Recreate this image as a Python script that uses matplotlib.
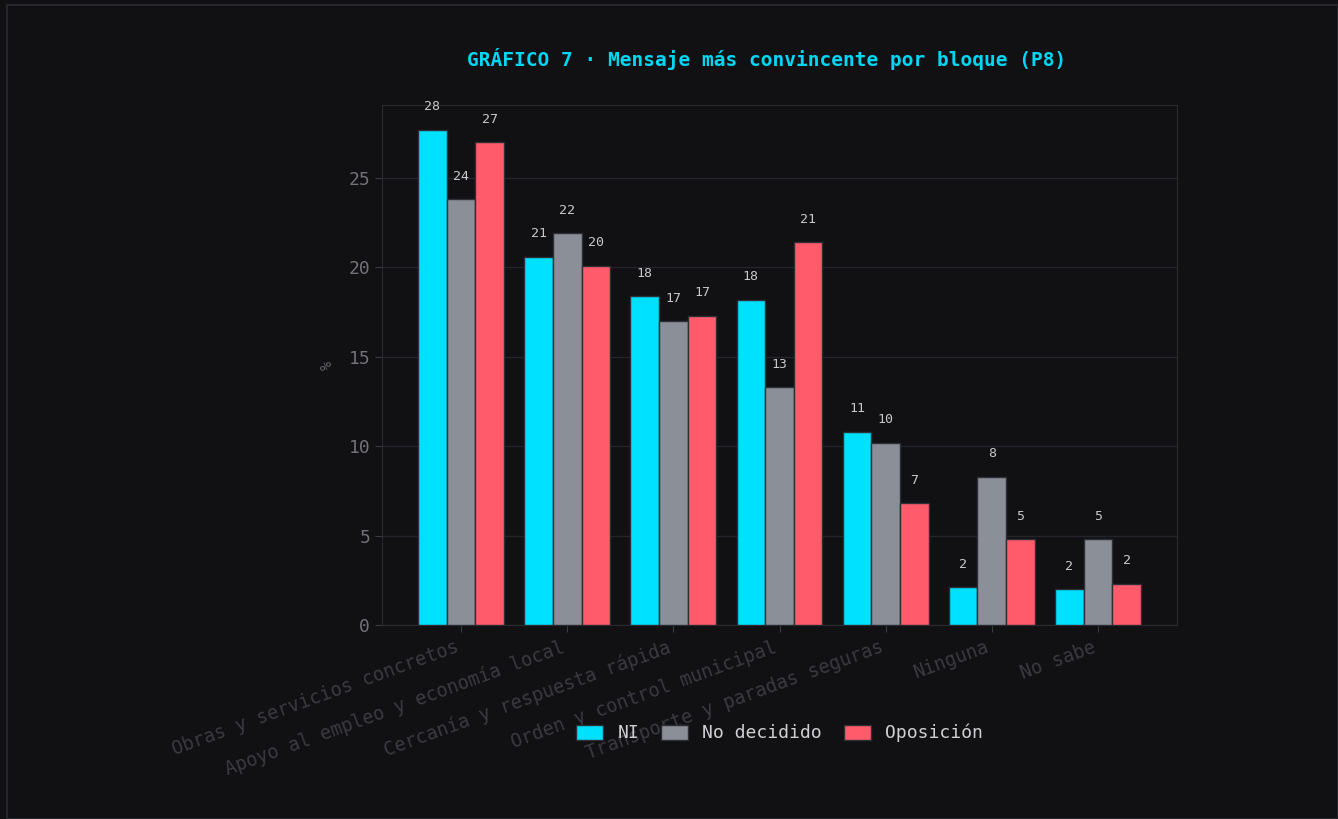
import matplotlib
matplotlib.use("Agg")
import matplotlib.pyplot as plt
import numpy as np
from matplotlib.patches import Rectangle

categories = ["Obras y servicios concretos", "Apoyo al empleo y economía local",
              "Cercanía y respuesta rápida", "Orden y control municipal",
              "Transporte y paradas seguras", "Ninguna", "No sabe"]
series_names = ["NI", "No decidido", "Oposición"]
ni = [27.7, 20.6, 18.4, 18.2, 10.8, 2.1, 2.0]
no_decidido = [23.8, 21.9, 17.0, 13.3, 10.2, 8.3, 4.8]
oposicion = [27.0, 20.1, 17.3, 21.4, 6.8, 4.8, 2.3]
colors = ["#00e1ff", "#8a8f98", "#ff5b6b"]
title = "GRÁFICO 7 · Mensaje más convincente por bloque (P8)"

BG = "#111114"
MONO = ["DejaVu Sans Mono"]

fig = plt.figure(figsize=(13.38, 8.19), dpi=100, facecolor=BG)
fig.patches.append(Rectangle((7 / 1338, 0), 1 - 7 / 1338, 1 - 5 / 819,
                             transform=fig.transFigure, fill=False,
                             edgecolor="#26262d", linewidth=1.5, zorder=0))
ax = fig.add_axes([382 / 1338, 1 - 625 / 819, (1177 - 382) / 1338, (625 - 105) / 819])
ax.set_facecolor(BG)

x = np.arange(len(categories))
w = 0.27
for i, (vals, name, c) in enumerate(zip([ni, no_decidido, oposicion], series_names, colors)):
    bars = ax.bar(x + (i - 1) * w, vals, w, color=c, edgecolor="#2e2e36",
                  linewidth=1, label=name, zorder=3)
    for b, v in zip(bars, vals):
        ax.annotate(f"{v:.0f}", (b.get_x() + b.get_width() / 2, v),
                    xytext=(0, 23), textcoords="offset pixels", ha="center",
                    va="center", fontsize=9.5, color="#c8c8cc", family=MONO)

ax.set_xticks(x)
ax.set_xticklabels(categories, rotation=20, ha="right",
                   fontsize=13.4, color="#717179", family=MONO)
ax.tick_params(axis="x", colors="#3a3a42", length=5, pad=4)
ax.tick_params(axis="y", colors="#3a3a42", length=5, labelsize=13, labelcolor="#717179")
for lab in ax.get_yticklabels():
    lab.set_family(MONO)
ax.set_yticks([0, 5, 10, 15, 20, 25])
ax.grid(axis="y", color="#24242a", linewidth=1, zorder=0)
ax.set_axisbelow(True)
for s in ax.spines.values():
    s.set_color("#2a2a31")
ax.set_ylabel("%", color="#5e5e66", fontsize=11, family=MONO, labelpad=10)

ax.set_title(title, x=(767 - 382) / 795, y=1.0, pad=28, fontsize=14,
             fontweight="bold", color="#00d7f5", family=MONO)

leg = ax.legend(loc="center", bbox_to_anchor=(0.5, -0.208), ncol=3, frameon=False,
                prop={"family": MONO, "size": 13}, handlelength=1.5,
                handleheight=0.9, columnspacing=1.2, handletextpad=0.8)
for t in leg.get_texts():
    t.set_color("#d0d0d4")

fig.savefig("out.png", dpi=100, facecolor=BG)
